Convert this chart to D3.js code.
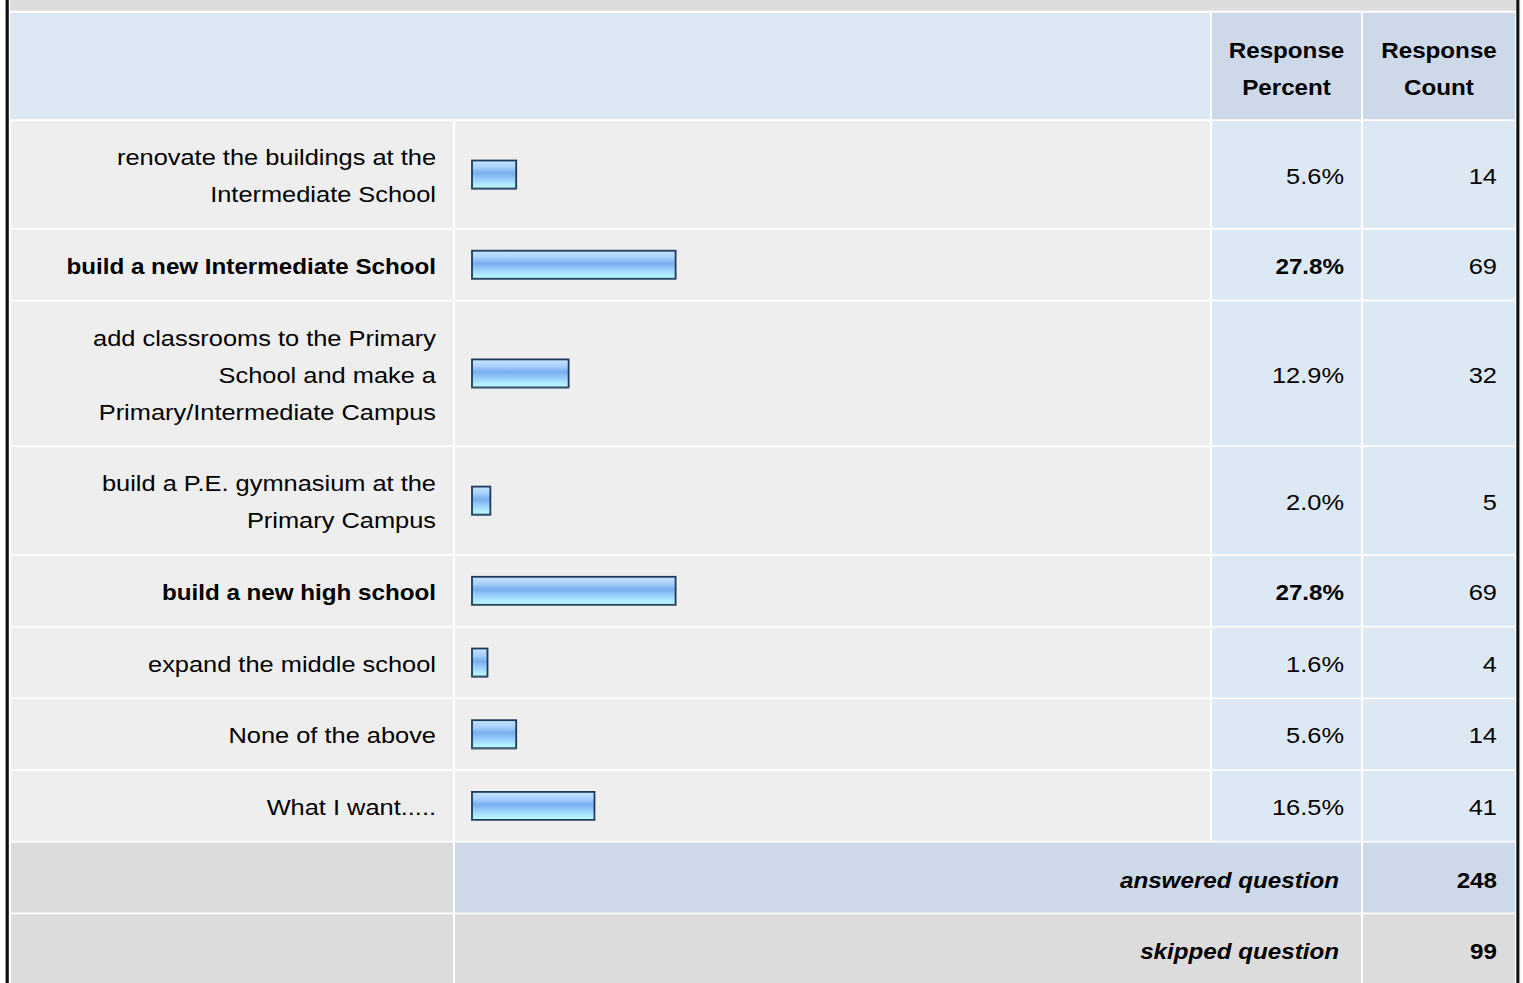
<!DOCTYPE html>
<html>
<head>
<meta charset="utf-8">
<script src="https://cdn.jsdelivr.net/npm/d3@7"></script>
<style>
  html, body { margin: 0; padding: 0; background: #ffffff; }
  svg { display: block; }
  text { font-family: "Liberation Sans", Arial, Helvetica, sans-serif; fill: #000; }
</style>
</head>
<body>
<svg id="chart" width="1523" height="983"></svg>
<script>
// ---------- data ----------
const categories = [
  "renovate the buildings at the\nIntermediate School",
  "build a new Intermediate School",
  "add classrooms to the Primary\nSchool and make a\nPrimary/Intermediate Campus",
  "build a P.E. gymnasium at the\nPrimary Campus",
  "build a new high school",
  "expand the middle school",
  "None of the above",
  "What I want....."
];
const percents = [5.6, 27.8, 12.9, 2.0, 27.8, 1.6, 5.6, 16.5];
const counts = [14, 69, 32, 5, 69, 4, 14, 41];
const columnHeaders = ["Response\nPercent", "Response\nCount"];
const summaryLabels = ["answered question", "skipped question"];
const summaryValues = [248, 99];

// ---------- layout ----------
const W = 1523, H = 983;
const svg = d3.select("#chart");
const FS = 22, LH = 37;
const SX_REG = 1.155, SX_BOLD = 1.10;

const colLabel = [11, 453], colBar = [455, 1210], colPct = [1212, 1361], colCnt = [1363, 1515];
const tableL = 10, tableR = 1516;

function txt(x, y, str, anchor, weight, style, sx) {
  const lines = String(str).split("\n");
  const n = lines.length;
  lines.forEach((ln, i) => {
    const yy = y + (i - (n - 1) / 2) * LH + FS * 0.36 + 1.2;
    svg.append("text")
      .attr("transform", `translate(${x},${yy}) scale(${sx},1)`)
      .attr("text-anchor", anchor)
      .attr("font-size", FS)
      .attr("font-weight", weight || "normal")
      .attr("font-style", style || "normal")
      .text(ln);
  });
}

// top grey band
svg.append("rect").attr("x", tableL).attr("y", 0).attr("width", tableR - tableL).attr("height", 10.7).attr("fill", "#dcdcdc");

// header
const headTop = 12.7, headBot = 119.3;
svg.append("rect").attr("x", tableL).attr("y", headTop).attr("width", colBar[1] - tableL).attr("height", headBot - headTop).attr("fill", "#dde8f5");
[colPct, colCnt].forEach((c, i) => {
  svg.append("rect").attr("x", c[0]).attr("y", headTop).attr("width", c[1] - c[0]).attr("height", headBot - headTop).attr("fill", "#cdd9e8");
  txt((c[0] + c[1]) / 2, 67.5, columnHeaders[i], "middle", "bold", "normal", SX_BOLD);
});

// rows
const GAP = 1.7;
const nLines = categories.map(c => c.split("\n").length);
const heights = nLines.map(n => 33 + 37 * n);
const tops = [];
let y = 121;
heights.forEach(h => { tops.push(y); y += h + GAP; });

const maxP = d3.max(percents);
const x = d3.scaleLinear().domain([0, 100]).range([476, 476 + 718]);

const defs = svg.append("defs");
const grad = defs.append("linearGradient").attr("id", "barGrad").attr("x1", 0).attr("y1", 0).attr("x2", 0).attr("y2", 1);
[["0%", "#c8e4ff"], ["25%", "#a6d0fc"], ["45%", "#79adef"], ["58%", "#8cc0f4"], ["80%", "#a9e2ff"], ["100%", "#bfffff"]]
  .forEach(s => grad.append("stop").attr("offset", s[0]).attr("stop-color", s[1]));

categories.forEach((cat, i) => {
  const t = tops[i], h = heights[i], cy = t + h / 2;
  const bold = percents[i] === maxP;
  svg.append("rect").attr("x", colLabel[0]).attr("y", t).attr("width", colLabel[1] - colLabel[0]).attr("height", h).attr("fill", "#eeeeee");
  svg.append("rect").attr("x", colBar[0]).attr("y", t).attr("width", colBar[1] - colBar[0]).attr("height", h).attr("fill", "#eeeeee");
  svg.append("rect").attr("x", colPct[0]).attr("y", t).attr("width", colPct[1] - colPct[0]).attr("height", h).attr("fill", "#dde8f5");
  svg.append("rect").attr("x", colCnt[0]).attr("y", t).attr("width", colCnt[1] - colCnt[0]).attr("height", h).attr("fill", "#dde8f5");

  txt(436, cy, cat, "end", bold ? "bold" : "normal", "normal", bold ? SX_BOLD : SX_REG);
  txt(1344, cy, percents[i].toFixed(1) + "%", "end", bold ? "bold" : "normal", "normal", bold ? SX_BOLD : SX_REG);
  txt(1497, cy, String(counts[i]), "end", "normal", "normal", SX_REG);

  // bar
  const bx0 = 472, bx1 = x(percents[i]);
  const by = cy - 14;
  svg.append("rect").attr("x", bx0).attr("y", by).attr("width", bx1 - bx0).attr("height", 28)
    .attr("fill", "url(#barGrad)").attr("stroke", "#1d3a5c").attr("stroke-width", 1.8);
  svg.append("line").attr("x1", bx0 - 0.9).attr("x2", bx1).attr("y1", by + 28.6).attr("y2", by + 28.6)
    .attr("stroke", "#5a6e88").attr("stroke-width", 1.2);
});

// summary rows
const sumH = 70;
summaryLabels.forEach((lab, i) => {
  const t = y + i * (sumH + GAP), cy = t + sumH / 2;
  const fill = i === 0 ? "#cdd9e8" : "#dcdcdc";
  svg.append("rect").attr("x", colLabel[0]).attr("y", t).attr("width", colLabel[1] - colLabel[0]).attr("height", sumH).attr("fill", "#dcdcdc");
  svg.append("rect").attr("x", colBar[0]).attr("y", t).attr("width", colPct[1] - colBar[0]).attr("height", sumH).attr("fill", fill);
  svg.append("rect").attr("x", colCnt[0]).attr("y", t).attr("width", colCnt[1] - colCnt[0]).attr("height", sumH).attr("fill", fill);
  txt(1339, cy + 1, lab, "end", "bold", "italic", SX_BOLD);
  txt(1497, cy + 1, String(summaryValues[i]), "end", "bold", "normal", SX_BOLD);
});

// outer frame
svg.append("rect").attr("x", 5).attr("y", 0).attr("width", 1).attr("height", H).attr("fill", "#9a9a9a");
svg.append("rect").attr("x", 6).attr("y", 0).attr("width", 2.8).attr("height", H).attr("fill", "#111111");
svg.append("rect").attr("x", 1516.3).attr("y", 0).attr("width", 2.8).attr("height", H).attr("fill", "#111111");
svg.append("rect").attr("x", 1519.1).attr("y", 0).attr("width", 1).attr("height", H).attr("fill", "#9a9a9a");
</script>
</body>
</html>
